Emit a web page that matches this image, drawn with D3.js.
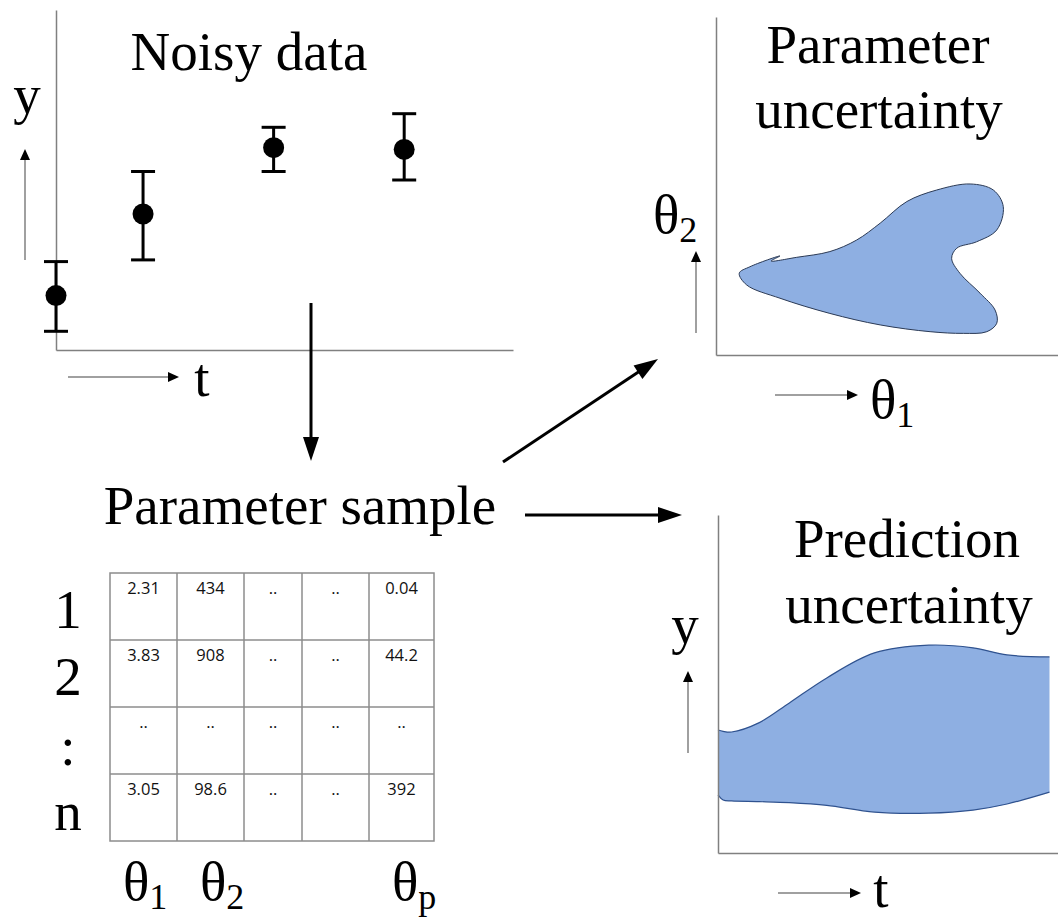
<!DOCTYPE html>
<html><head><meta charset="utf-8">
<script src="https://cdn.jsdelivr.net/npm/d3@7"></script>
<style>html,body{margin:0;padding:0;background:#fff}svg{display:block}</style>
</head><body>
<script>
// ---------- DATA ----------
// Noisy data panel (t, y, error bar low/high)
const noisyT  = [0, 2, 5, 8];
const noisyY  = [1.6, 4.0, 5.95, 5.9];
const noisyLo = [0.55, 2.65, 5.25, 5.0];
const noisyHi = [2.6, 5.25, 6.55, 6.95];

// Parameter uncertainty region outline (theta1, theta2)
const blobTheta1 = [0.68, 0.99, 1.87, 1.61, 2.36, 3.33, 4.11, 4.80, 5.58, 6.45, 7.43, 8.11, 8.40, 8.21, 7.62, 7.04, 6.89, 7.13, 7.72, 8.16, 8.21, 7.92, 7.23, 6.26, 4.80, 3.33, 1.87, 0.90];
const blobTheta2 = [2.42, 2.61, 2.93, 2.78, 2.89, 3.06, 3.40, 3.90, 4.54, 4.88, 5.06, 4.88, 4.39, 3.70, 3.35, 3.16, 2.86, 2.42, 1.83, 1.33, 0.94, 0.69, 0.64, 0.69, 0.89, 1.23, 1.68, 2.07];

// Prediction uncertainty band (t, upper, lower)
const bandT     = [0, 0.15, 0.4, 1.2, 2.1, 3.2, 4.6, 6.2, 7.5, 8.5, 9.75];
const bandUpper = [3.64, 3.60, 3.58, 3.85, 4.44, 5.18, 5.92, 6.15, 6.07, 5.86, 5.80];
const bandLower = [1.72, 1.57, 1.54, 1.52, 1.49, 1.41, 1.21, 1.18, 1.27, 1.45, 1.80];

// Parameter sample table
const sampleRowLabels = ["1", "2", ":", "n"];
const sampleColLabels = [["θ", "1"], ["θ", "2"], null, null, ["θ", "p"]];
const sampleValues = [
  ["2.31", "434", "..", "..", "0.04"],
  ["3.83", "908", "..", "..", "44.2"],
  ["..", "..", "..", "..", ".."],
  ["3.05", "98.6", "..", "..", "392"]
];

// ---------- LAYOUT ----------
const W = 1058, H = 922;
const SERIF = "'Liberation Serif','Times New Roman',serif";
const AXIS_COLOR = "#808080";
const FILL = "#8eafe2";

const svg = d3.select("body").append("svg").attr("width", W).attr("height", H)
  .attr("viewBox", `0 0 ${W} ${H}`);

function arrow(x1, y1, x2, y2, o) {
  const dx = x2 - x1, dy = y2 - y1, L = Math.hypot(dx, dy);
  const ux = dx / L, uy = dy / L;
  const bx = x2 - ux * o.len, by = y2 - uy * o.len;
  svg.append("line").attr("x1", x1).attr("y1", y1)
    .attr("x2", x2 - ux * o.len * 0.7).attr("y2", y2 - uy * o.len * 0.7)
    .attr("stroke", o.color).attr("stroke-width", o.sw);
  const px = -uy * o.wid / 2, py = ux * o.wid / 2;
  svg.append("path")
    .attr("d", `M${x2},${y2}L${bx + px},${by + py}L${bx - px},${by - py}Z`)
    .attr("fill", "#000");
}
const big = {len: 24, wid: 16, sw: 3, color: "#000"};
const small = {len: 11, wid: 10, sw: 1.5, color: AXIS_COLOR};

function label(x, y, txt, anchor, sub) {
  const t = svg.append("text").attr("x", x).attr("y", y)
    .attr("text-anchor", anchor || "start")
    .attr("font-family", SERIF).attr("font-size", 55).attr("fill", "#000")
    .text(txt);
  if (sub) t.append("tspan").attr("font-size", 36).attr("dy", 9).text(sub);
  return t;
}

function drawAxes(x, y) {
  svg.append("g").attr("transform", `translate(0,${y.range()[0]})`)
    .call(d3.axisBottom(x).tickValues([]).tickSizeOuter(0))
    .call(g => g.select(".domain").attr("stroke", AXIS_COLOR).attr("stroke-width", 1.5));
  svg.append("g").attr("transform", `translate(${x.range()[0]},0)`)
    .call(d3.axisLeft(y).tickValues([]).tickSizeOuter(0))
    .call(g => g.select(".domain").attr("stroke", AXIS_COLOR).attr("stroke-width", 1.5));
}

// ---------- PANEL 1: Noisy data ----------
{
  const x = d3.scaleLinear().domain([0, 10.5]).range([56, 513]);
  const y = d3.scaleLinear().domain([0, 10]).range([350, 10]);
  drawAxes(x, y);
  const pts = noisyT.map((t, i) => ({t, y: noisyY[i], lo: noisyLo[i], hi: noisyHi[i]}));
  const g = svg.append("g");
  g.selectAll("line.eb").data(pts).join("line").attr("class", "eb")
    .attr("x1", d => x(d.t)).attr("x2", d => x(d.t))
    .attr("y1", d => y(d.lo)).attr("y2", d => y(d.hi))
    .attr("stroke", "#000").attr("stroke-width", 3);
  ["lo", "hi"].forEach(k => {
    g.selectAll("line.cap" + k).data(pts).join("line").attr("class", "cap" + k)
      .attr("x1", d => x(d.t) - 12).attr("x2", d => x(d.t) + 12)
      .attr("y1", d => y(d[k])).attr("y2", d => y(d[k]))
      .attr("stroke", "#000").attr("stroke-width", 3);
  });
  g.selectAll("circle").data(pts).join("circle")
    .attr("cx", d => x(d.t)).attr("cy", d => y(d.y)).attr("r", 10.5).attr("fill", "#000");
  label(249, 70, "Noisy data", "middle");
  label(27, 113, "y", "middle");
  label(202, 396, "t", "middle");
  arrow(25, 260, 25, 149, small);
  arrow(68, 377, 179, 377, small);
}

// ---------- PANEL 2: Parameter uncertainty ----------
{
  const x = d3.scaleLinear().domain([0, 10]).range([716, 1058]);
  const y = d3.scaleLinear().domain([0, 10]).range([355, 17]);
  drawAxes(x, y);
  const pts = blobTheta1.map((a, i) => [a, blobTheta2[i]]);
  const line = d3.line().x(d => x(d[0])).y(d => y(d[1]))
    .curve(d3.curveCatmullRomClosed.alpha(0.5));
  svg.append("path").attr("d", line(pts)).attr("fill", FILL)
    .attr("stroke", "#2b3a55").attr("stroke-width", 1);
  label(878, 63, "Parameter", "middle");
  label(879, 128, "uncertainty", "middle");
  label(653, 233, "θ", "start", "2");
  label(870, 418, "θ", "start", "1");
  arrow(696, 333, 696, 251, small);
  arrow(775, 395, 858, 395, small);
}

// ---------- PANEL 3: Prediction uncertainty ----------
{
  const x = d3.scaleLinear().domain([0, 10]).range([718, 1058]);
  const y = d3.scaleLinear().domain([0, 10]).range([853, 515]);
  const pts = bandT.map((t, i) => ({t, u: bandUpper[i], l: bandLower[i]}));
  const area = d3.area().x(d => x(d.t)).y0(d => y(d.l)).y1(d => y(d.u))
    .curve(d3.curveCatmullRom.alpha(0.5));
  svg.append("path").attr("d", area(pts)).attr("fill", FILL);
  const lu = d3.line().x(d => x(d.t)).y(d => y(d.u)).curve(d3.curveCatmullRom.alpha(0.5));
  const ll = d3.line().x(d => x(d.t)).y(d => y(d.l)).curve(d3.curveCatmullRom.alpha(0.5));
  svg.append("path").attr("d", lu(pts)).attr("fill", "none").attr("stroke", "#2f528f").attr("stroke-width", 1.2);
  svg.append("path").attr("d", ll(pts)).attr("fill", "none").attr("stroke", "#2f528f").attr("stroke-width", 1.2);
  drawAxes(x, y);
  label(907, 557, "Prediction", "middle");
  label(909, 623, "uncertainty", "middle");
  label(685, 643, "y", "middle");
  label(881, 907, "t", "middle");
  arrow(688, 753, 688, 671, small);
  arrow(778, 893, 861, 893, small);
}

// ---------- Central flow ----------
label(300, 524, "Parameter sample", "middle");
arrow(311, 303, 311, 461, big);
arrow(503, 462, 658, 359, big);
arrow(525, 515, 682, 515, big);

// ---------- Table ----------
{
  const colEdges = [110, 177, 244, 302, 369, 434];
  const row = d3.scaleBand().domain(d3.range(sampleRowLabels.length)).range([573, 841]);
  const g = svg.append("g");
  g.append("rect").attr("x", colEdges[0]).attr("y", row.range()[0])
    .attr("width", colEdges[5] - colEdges[0]).attr("height", row.range()[1] - row.range()[0])
    .attr("fill", "none").attr("stroke", "#8c8c8c").attr("stroke-width", 1.5);
  g.selectAll("line.v").data(colEdges.slice(1, -1)).join("line").attr("class", "v")
    .attr("x1", d => d).attr("x2", d => d).attr("y1", row.range()[0]).attr("y2", row.range()[1])
    .attr("stroke", "#8c8c8c").attr("stroke-width", 1.5);
  g.selectAll("line.h").data(d3.range(1, sampleRowLabels.length)).join("line").attr("class", "h")
    .attr("x1", colEdges[0]).attr("x2", colEdges[5]).attr("y1", d => row(d)).attr("y2", d => row(d))
    .attr("stroke", "#8c8c8c").attr("stroke-width", 1.5);
  sampleValues.forEach((r, ri) => {
    r.forEach((v, ci) => {
      g.append("text").attr("x", (colEdges[ci] + colEdges[ci + 1]) / 2)
        .attr("y", row(ri) + 21).attr("text-anchor", "middle")
        .attr("font-family", "'Open Sans','Noto Sans',sans-serif").attr("font-size", 16.5)
        .attr("fill", "#111").text(v);
    });
  });
  const rowBase = [628, 695, 765, 830];
  sampleRowLabels.forEach((l, i) => label(68, rowBase[i], l, "middle"));
  const colLabelX = [123, 200, null, null, 392];
  sampleColLabels.forEach((c, i) => { if (c) label(colLabelX[i], 900, c[0], "start", c[1]); });
}
</script>
</body></html>
